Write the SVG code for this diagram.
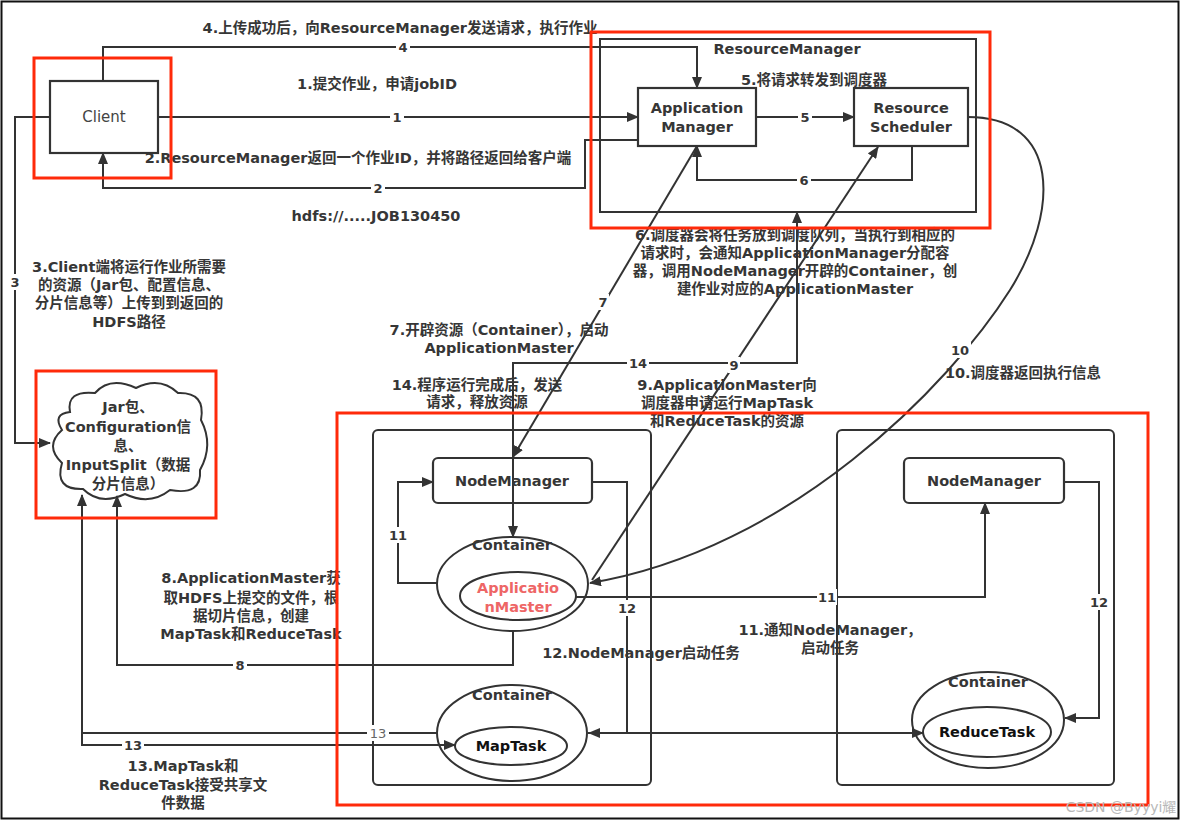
<svg xmlns="http://www.w3.org/2000/svg" width="1184" height="823" viewBox="0 0 1184 823">
<defs>
<marker id="ah" viewBox="0 0 12 10" refX="11" refY="5" markerWidth="12" markerHeight="10" markerUnits="userSpaceOnUse" orient="auto-start-reverse">
<path d="M0,0 L12,5 L0,10 Z" fill="#333"/>
</marker>
<style>
text{font-family:"DejaVu Sans","Noto Sans CJK SC",sans-serif;fill:#363636;dominant-baseline:central}
.t{font-size:14.5px;font-weight:bold;text-anchor:middle}
.n{font-size:13px;font-weight:bold;text-anchor:middle}
.box{fill:#fff;stroke:#333;stroke-width:2.2}
.grp{fill:none;stroke:#333;stroke-width:2}
.ell{fill:#fff;stroke:#333;stroke-width:2}
.red{fill:none;stroke:#ff2a0a;stroke-width:3}
.c{fill:none;stroke:#333;stroke-width:2}
.lb{fill:#fff}
</style>
</defs>
<rect x="0" y="0" width="1184" height="823" fill="#fff"/>
<rect x="1.5" y="1.5" width="1177" height="817" fill="none" stroke="#111" stroke-width="2"/>

<!-- cluster boxes -->
<g id="rm-cluster">
<rect class="grp" x="600" y="39" width="376" height="173"/>
<text class="t" x="787" y="49">ResourceManager</text>
</g>
<g id="node-cluster-1"><rect class="grp" x="373" y="430" width="278" height="355" rx="5"/></g>
<g id="node-cluster-2"><rect class="grp" x="837" y="430" width="277" height="355" rx="5"/></g>

<g id="client">
<rect class="box" x="50" y="81" width="108" height="72"/>
<text x="104" y="117" style="font-size:15px;text-anchor:middle;fill:#444">Client</text>
</g>
<g id="app-manager">
<rect class="box" x="638" y="88" width="118" height="58"/>
<text class="t" x="697" y="108">Application</text>
<text class="t" x="697" y="127">Manager</text>
</g>
<g id="resource-scheduler">
<rect class="box" x="854" y="88" width="114" height="58"/>
<text class="t" x="911" y="108">Resource</text>
<text class="t" x="911" y="127">Scheduler</text>
</g>
<g id="hdfs-cloud">
<path class="ell" d="M70,412 Q66,390 95,393 Q110,376 136,388 Q160,376 178,393 Q206,392 201,420 Q214,445 200,470 Q202,496 170,490 Q150,506 125,494 Q100,506 83,489 Q54,490 62,463 Q44,446 62,430 Q52,414 70,412 Z"/>
<text class="t" x="128" y="407">Jar包、</text>
<text class="t" x="128" y="427">Configuration信</text>
<text class="t" x="128" y="446">息、</text>
<text class="t" x="128" y="465">InputSplit（数据</text>
<text class="t" x="128" y="484">分片信息）</text>
</g>
<g id="node-manager-1">
<rect class="box" x="433" y="458" width="159" height="45" rx="5"/>
<text class="t" x="512" y="481">NodeManager</text>
</g>
<g id="node-manager-2">
<rect class="box" x="904" y="458" width="160" height="45" rx="5"/>
<text class="t" x="984" y="481">NodeManager</text>
</g>
<g id="container-appmaster">
<ellipse class="ell" cx="512.5" cy="584" rx="75.5" ry="47"/>
<text class="t" x="512" y="545">Container</text>
<ellipse class="ell" cx="518" cy="596" rx="58" ry="24"/>
<text class="t" x="518" y="588" style="fill:#ee6666">Applicatio</text>
<text class="t" x="518" y="607" style="fill:#ee6666">nMaster</text>
</g>
<g id="container-maptask">
<ellipse class="ell" cx="512" cy="733" rx="75" ry="48"/>
<text class="t" x="512" y="695">Container</text>
<ellipse class="ell" cx="511" cy="746" rx="56" ry="19"/>
<text class="t" x="511" y="746" style="fill:#111">MapTask</text>
</g>
<g id="container-reducetask">
<ellipse class="ell" cx="988" cy="720" rx="76" ry="48"/>
<text class="t" x="988" y="682">Container</text>
<ellipse class="ell" cx="987" cy="732" rx="64" ry="25"/>
<text class="t" x="987" y="732" style="fill:#111">ReduceTask</text>
</g>

<g id="connectors">
<path class="c" d="M103,81 V47 H697 V88" marker-end="url(#ah)"/>
<path class="c" d="M158,117 H638" marker-end="url(#ah)"/>
<path class="c" d="M638,140 H585 V188 H103 V153" marker-end="url(#ah)"/>
<path class="c" d="M50,117 H15 V443 H50" marker-end="url(#ah)"/>
<path class="c" d="M756,117 H854" marker-end="url(#ah)"/>
<path class="c" d="M912,146 V180 H697 V146" marker-end="url(#ah)"/>
<path class="c" d="M697,146 L513,457" marker-end="url(#ah)"/>
<path class="c" d="M513,537 V363 H797 V212" marker-start="url(#ah)" marker-end="url(#ah)"/>
<path class="c" d="M592,580 L878,147" marker-end="url(#ah)"/>
<path class="c" d="M968,117 C1060,117 1060,210 1010,290 C950,385 790,550 590,583" marker-end="url(#ah)"/>
<path class="c" d="M437,583 H398 V482 H433" marker-end="url(#ah)"/>
<path class="c" d="M576,597 H985 V503" marker-end="url(#ah)"/>
<path class="c" d="M592,482 H627 V733 H589" marker-end="url(#ah)"/>
<path class="c" d="M1064,482 H1099 V718 H1065" marker-end="url(#ah)"/>
<path class="c" d="M513,631 V665 H117 V496" marker-end="url(#ah)"/>
<path class="c" d="M455,745 H82 V495" marker-start="url(#ah)" marker-end="url(#ah)"/>
<path class="c" d="M82,733 H437"/>
<path class="c" d="M588,733 H923" marker-end="url(#ah)"/>
<g id="connector-labels">
<rect class="lb" x="396" y="39" width="14" height="16"/><text class="n" x="403" y="47">4</text>
<rect class="lb" x="390" y="109" width="14" height="16"/><text class="n" x="397" y="117">1</text>
<rect class="lb" x="371" y="180" width="14" height="16"/><text class="n" x="378" y="188">2</text>
<rect class="lb" x="9" y="274" width="12" height="16"/><text class="n" x="15" y="282">3</text>
<rect class="lb" x="798" y="109" width="14" height="16"/><text class="n" x="805" y="117">5</text>
<rect class="lb" x="797" y="172" width="14" height="16"/><text class="n" x="804" y="180">6</text>
<rect class="lb" x="597" y="294" width="12" height="16"/><text class="n" x="603" y="302">7</text>
<rect class="lb" x="627" y="355" width="22" height="16"/><text class="n" x="638" y="363">14</text>
<rect class="lb" x="728" y="357" width="12" height="16"/><text class="n" x="734" y="365">9</text>
<rect class="lb" x="949" y="342" width="22" height="16"/><text class="n" x="960" y="350">10</text>
<rect class="lb" x="388" y="527" width="20" height="16"/><text class="n" x="398" y="535">11</text>
<rect class="lb" x="817" y="589" width="20" height="16"/><text class="n" x="827" y="597">11</text>
<rect class="lb" x="616" y="600" width="22" height="16"/><text class="n" x="627" y="608">12</text>
<rect class="lb" x="1088" y="594" width="22" height="16"/><text class="n" x="1099" y="602">12</text>
<rect class="lb" x="233" y="657" width="14" height="16"/><text class="n" x="240" y="665">8</text>
<rect class="lb" x="122" y="737" width="22" height="16"/><text class="n" x="133" y="745">13</text>
<rect class="lb" x="367" y="725" width="22" height="16"/><text class="n" x="378" y="733" style="font-weight:normal;fill:#666">13</text>
</g>
</g>

<g id="annotations">
<text class="t" x="400" y="28">4.上传成功后，向ResourceManager发送请求，执行作业</text>
<text class="t" x="377" y="84">1.提交作业，申请jobID</text>
<text class="t" x="358" y="158">2.ResourceManager返回一个作业ID，并将路径返回给客户端</text>
<text class="t" x="376" y="216">hdfs://.....JOB130450</text>
<text class="t" x="814" y="80">5.将请求转发到调度器</text>
<text class="t" x="795" y="235">6.调度器会将任务放到调度队列，当执行到相应的</text>
<text class="t" x="795" y="253">请求时，会通知ApplicationManager分配容</text>
<text class="t" x="795" y="271">器，调用NodeManager开辟的Container，创</text>
<text class="t" x="795" y="289">建作业对应的ApplicationMaster</text>
<text class="t" x="129" y="267">3.Client端将运行作业所需要</text>
<text class="t" x="129" y="285">的资源（Jar包、配置信息、</text>
<text class="t" x="129" y="303">分片信息等）上传到到返回的</text>
<text class="t" x="129" y="322">HDFS路径</text>
<text class="t" x="499" y="330">7.开辟资源（Container），启动</text>
<text class="t" x="499" y="348">ApplicationMaster</text>
<text class="t" x="477" y="385">14.程序运行完成后，发送</text>
<text class="t" x="477" y="402">请求，释放资源</text>
<text class="t" x="727" y="385">9.ApplicationMaster向</text>
<text class="t" x="727" y="403">调度器申请运行MapTask</text>
<text class="t" x="727" y="421">和ReduceTask的资源</text>
<text class="t" x="1023" y="373">10.调度器返回执行信息</text>
<text class="t" x="251" y="578">8.ApplicationMaster获</text>
<text class="t" x="251" y="598">取HDFS上提交的文件，根</text>
<text class="t" x="251" y="616">据切片信息，创建</text>
<text class="t" x="251" y="634">MapTask和ReduceTask</text>
<text class="t" x="830" y="630">11.通知NodeManager，</text>
<text class="t" x="830" y="648">启动任务</text>
<text class="t" x="641" y="653">12.NodeManager启动任务</text>
<text class="t" x="183" y="766">13.MapTask和</text>
<text class="t" x="183" y="785">ReduceTask接受共享文</text>
<text class="t" x="183" y="803">件数据</text>
</g>

<g id="highlights">
<rect class="red" x="34" y="58" width="137" height="120"/>
<rect class="red" x="591" y="32" width="399" height="196"/>
<rect class="red" x="36" y="371" width="180" height="147"/>
<rect class="red" x="337" y="413" width="811" height="392"/>
</g>
<text x="1121" y="807" style="font-size:14px;text-anchor:middle;fill:#b8b8b8">CSDN @Byyyi耀</text>
</svg>
